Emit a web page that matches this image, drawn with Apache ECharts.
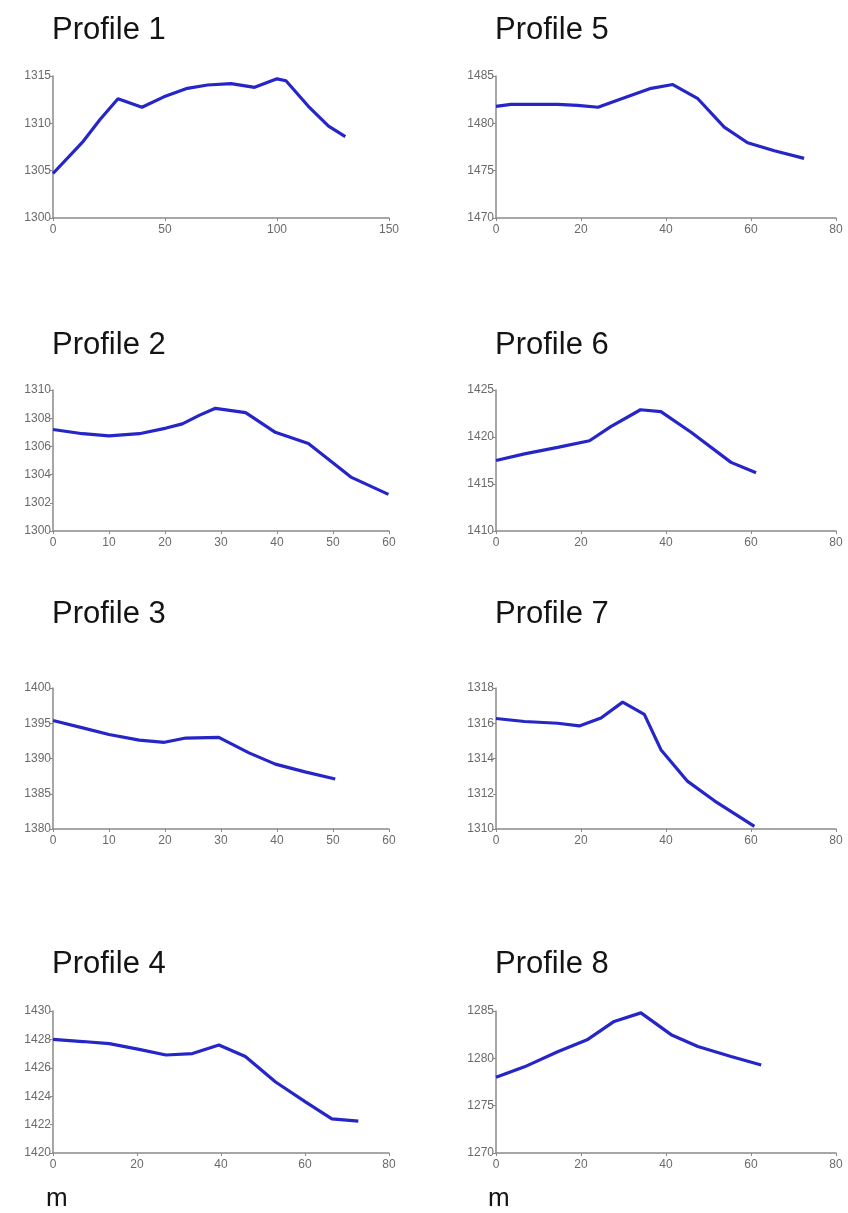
<!DOCTYPE html>
<html>
<head>
<meta charset="utf-8">
<title>Profiles</title>
<script src="https://cdn.jsdelivr.net/npm/echarts@6/dist/echarts.min.js"></script>
<style>
  html, body { margin: 0; padding: 0; background: #fff; }
  #chart { width: 848px; height: 1213px; }
</style>
</head>
<body>
<div id="chart"></div>
<script>
// distance along profile (m) and elevation
var p1Dist = [0, 13.5, 21, 29, 39.7, 49.5, 60, 69, 79.5, 90, 100, 104, 114, 123, 130.5]
var p1Elev = [1304.7, 1308.1, 1310.4, 1312.6, 1311.7, 1312.8, 1313.7, 1314.05, 1314.2, 1313.8, 1314.7, 1314.5, 1311.8, 1309.7, 1308.6]

var p2Dist = [0, 5.3, 10, 15.4, 20.2, 23.1, 26.1, 29, 34.4, 39.7, 45.6, 49.8, 53.3, 59.9]
var p2Elev = [1307.2, 1306.9, 1306.75, 1306.9, 1307.3, 1307.6, 1308.2, 1308.7, 1308.4, 1307.0, 1306.2, 1304.9, 1303.8, 1302.6]

var p3Dist = [0, 5.3, 10, 15.4, 19.9, 23.7, 29.6, 35, 39.7, 45, 50.4]
var p3Elev = [1395.4, 1394.35, 1393.4, 1392.6, 1392.3, 1392.9, 1393.0, 1390.8, 1389.2, 1388.1, 1387.1]

var p4Dist = [0, 7.1, 13.4, 20.5, 26.9, 33.2, 39.5, 45.8, 53, 60.1, 66.4, 72.7]
var p4Elev = [1428.0, 1427.85, 1427.7, 1427.3, 1426.9, 1427.0, 1427.6, 1426.8, 1425.0, 1423.6, 1422.4, 1422.25]

var p5Dist = [0, 3.5, 14.5, 19.2, 24, 30.2, 36.5, 41.6, 47.5, 53.7, 59.2, 65.5, 72.5]
var p5Elev = [1481.8, 1482.0, 1482.0, 1481.9, 1481.7, 1482.7, 1483.7, 1484.1, 1482.6, 1479.6, 1477.95, 1477.1, 1476.3]

var p6Dist = [0, 6.7, 14.5, 22, 27, 34, 38.8, 45.9, 55.3, 61.2]
var p6Elev = [1417.5, 1418.2, 1418.9, 1419.6, 1421.1, 1422.9, 1422.7, 1420.5, 1417.3, 1416.2]

var p7Dist = [0, 6.7, 14.5, 19.6, 24.7, 29.8, 34.9, 38.8, 45.1, 51.4, 60.8]
var p7Elev = [1316.27, 1316.1, 1316.0, 1315.85, 1316.3, 1317.2, 1316.5, 1314.5, 1312.7, 1311.6, 1310.15]

var p8Dist = [0, 6.7, 14.5, 21.6, 27.8, 34.1, 41.2, 47.5, 55.3, 62.4]
var p8Elev = [1278.0, 1279.1, 1280.7, 1282.0, 1283.9, 1284.8, 1282.5, 1281.25, 1280.2, 1279.3]

var titles = ['Profile 1', 'Profile 2', 'Profile 3', 'Profile 4', 'Profile 5', 'Profile 6', 'Profile 7', 'Profile 8']
var xMax = [150, 60, 60, 80, 80, 80, 80, 80]
var xStep = [50, 10, 10, 20, 20, 20, 20, 20]
var yMin = [1300, 1300, 1380, 1420, 1470, 1410, 1310, 1270]
var yMax = [1315, 1310, 1400, 1430, 1485, 1425, 1318, 1285]
var yStep = [5, 2, 5, 2, 5, 5, 2, 5]

var dists = [p1Dist, p2Dist, p3Dist, p4Dist, p5Dist, p6Dist, p7Dist, p8Dist]
var elevs = [p1Elev, p2Elev, p3Elev, p4Elev, p5Elev, p6Elev, p7Elev, p8Elev]

// layout: two columns, four rows
var colLeft = [53, 496]
var colWidth = [336, 340]
var rowTop = [76, 390, 688, 1011]
var rowHeight = [142, 141, 141, 142]
var titleTop = [15, 330, 599, 949]

var chart = echarts.init(document.getElementById('chart'))

var grid = [], xAxis = [], yAxis = [], series = [], title = []
for (var i = 0; i < 8; i++) {
  var col = i < 4 ? 0 : 1
  var row = i % 4
  grid.push({ left: colLeft[col], top: rowTop[row], width: colWidth[col], height: rowHeight[row] })
  title.push({
    text: titles[i],
    left: colLeft[col] - 1,
    top: titleTop[row],
    padding: 0,
    textStyle: { fontFamily: 'Liberation Sans, Arial, sans-serif', fontSize: 31, fontWeight: 'normal', color: '#141414' }
  })
  xAxis.push({
    type: 'value', gridIndex: i, min: 0, max: xMax[i], interval: xStep[i],
    axisLine: { show: true, lineStyle: { color: '#8a8a8a', width: 1.5 } },
    axisTick: { show: true, length: 3, lineStyle: { color: '#8a8a8a' } },
    axisLabel: { color: '#6a6a6a', fontSize: 12, margin: 6, fontFamily: 'Liberation Sans, Arial, sans-serif' },
    splitLine: { show: false }
  })
  yAxis.push({
    type: 'value', gridIndex: i, min: yMin[i], max: yMax[i], interval: yStep[i],
    axisLine: { show: true, lineStyle: { color: '#8a8a8a', width: 1.5 } },
    axisTick: { show: true, length: 3, lineStyle: { color: '#8a8a8a' } },
    axisLabel: {
      color: '#6a6a6a', fontSize: 12, margin: 2, fontFamily: 'Liberation Sans, Arial, sans-serif',
      formatter: function (v) { return String(v) }
    },
    splitLine: { show: false }
  })
  var pts = []
  for (var k = 0; k < dists[i].length; k++) {
    pts.push([dists[i][k], elevs[i][k]])
  }
  series.push({
    type: 'line', xAxisIndex: i, yAxisIndex: i, data: pts,
    showSymbol: false, smooth: false,
    lineStyle: { color: '#2525c8', width: 3.2 }
  })
}

chart.setOption({
  animation: false,
  title: title,
  grid: grid,
  xAxis: xAxis,
  yAxis: yAxis,
  series: series,
  graphic: [
    { type: 'text', left: 46, top: 1186, style: { text: 'm', font: '26px Liberation Sans, Arial, sans-serif', fill: '#141414' } },
    { type: 'text', left: 488, top: 1186, style: { text: 'm', font: '26px Liberation Sans, Arial, sans-serif', fill: '#141414' } }
  ]
})
</script>
</body>
</html>
